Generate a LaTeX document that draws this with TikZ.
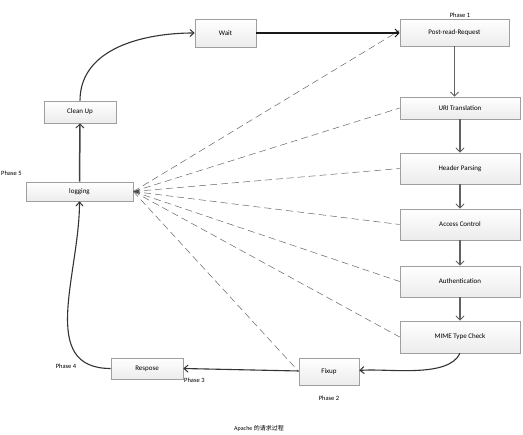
\documentclass[tikz,border=0pt]{standalone}
\usepackage{fontspec}
\setmainfont{Carlito}
\newfontfamily\cjk{Noto Sans CJK SC}
\usetikzlibrary{arrows.meta,shadows}
\begin{document}
\begin{tikzpicture}[x=1pt,y=-1pt,
  box/.style={draw=gray!75,line width=0.6pt,top color=white,bottom color=gray!15,
    font=\fontsize{7}{8}\selectfont,inner sep=0pt,
    drop shadow={shadow xshift=0.8pt,shadow yshift=-0.8pt,fill=gray!45,opacity=0.6}},
  mainarrow/.style={line width=1.1pt,draw=black!80,-{Straight Barb[length=4pt,width=7pt,line width=1pt]}},
  grayarrow/.style={line width=1.5pt,draw=black!62,-{Straight Barb[length=4pt,width=8pt,line width=1pt]}},
  dashline/.style={draw=black!60,line width=0.5pt,dash pattern=on 7pt off 4pt},
  phase/.style={font=\fontsize{6.5}{7}\selectfont,inner sep=0pt}]
\useasboundingbox (0,0) rectangle (523,435);
\fill[white] (0,0) rectangle (523,435);
% boxes
\node[box,minimum width=61pt,minimum height=28pt] (wait) at (225.5,33) {Wait};
\node[box,minimum width=109pt,minimum height=27pt] (post) at (454.5,32.5) {Post-read-Request};
\node[box,minimum width=120pt,minimum height=22pt] (uri) at (460,108) {URI Translation};
\node[box,minimum width=120pt,minimum height=31pt] (header) at (460,168.5) {Header Parsing};
\node[box,minimum width=120pt,minimum height=31pt] (access) at (460,224.5) {Access Control};
\node[box,minimum width=120pt,minimum height=31pt] (auth) at (460,281.5) {Authentication};
\node[box,minimum width=120pt,minimum height=32pt] (mime) at (460,337) {MIME Type Check};
\node[box,minimum width=60pt,minimum height=27pt] (fixup) at (329,371.5) {Fixup};
\node[box,minimum width=72pt,minimum height=21pt] (respose) at (147,368.5) {Respose};
\node[box,minimum width=72pt,minimum height=22pt] (cleanup) at (80,112) {Clean Up};
\node[box,minimum width=107pt,minimum height=19pt] (logging) at (79.5,191.5) {logging};
% labels
\node[phase] (p1) at (460,15) {Phase 1};
\node[phase,anchor=west] (p5) at (1,173) {Phase 5};
\node[phase] (p4) at (66,366) {Phase 4};
\node[phase,anchor=west] (p3) at (184,380) {Phase 3};
\node[phase] (p2) at (329,398) {Phase 2};
\node[font=\fontsize{6}{7}\selectfont,inner sep=0pt] (cap) at (259,428) {Apache {\cjk 的请求过程}};
% dashed lines
\foreach \t in {uri,header,access,auth,mime}
  \draw[dashline] (logging.east) -- (\t.west);
\draw[dashline,-{Stealth[length=4pt,width=3pt]}] (logging.east) -- ([yshift=2pt]post.west);
\draw[dashline] (logging.east) -- (fixup.west);
\fill[black!70] (logging.east) -- ++(6,-2) -- ++(0,4) -- cycle;
% main arrows
\draw[line width=1.4pt,draw=black!90,-{Straight Barb[length=4pt,width=8pt,line width=1pt]}] (wait.east) -- (wait.east -| post.west);
\draw[grayarrow] (post.south) -- (post.south |- uri.north);
\draw[grayarrow] (uri.south) -- (header.north);
\draw[grayarrow] (header.south) -- (access.north);
\draw[grayarrow] (access.south) -- (auth.north);
\draw[grayarrow] (auth.south) -- (mime.north);
\draw[mainarrow] (mime.south) to[out=-115,in=5,looseness=0.7] ([yshift=1pt]fixup.east);
\draw[mainarrow] ([yshift=0.5pt]fixup.west) -- (respose.east);
\draw[mainarrow] (respose.west) to[out=180,in=-90,looseness=1.1] (logging.south);
\draw[grayarrow,draw=black!75] (logging.north) -- (cleanup.south);
\draw[mainarrow] (cleanup.north) to[out=90,in=180] (wait.west);
\end{tikzpicture}
\end{document}
